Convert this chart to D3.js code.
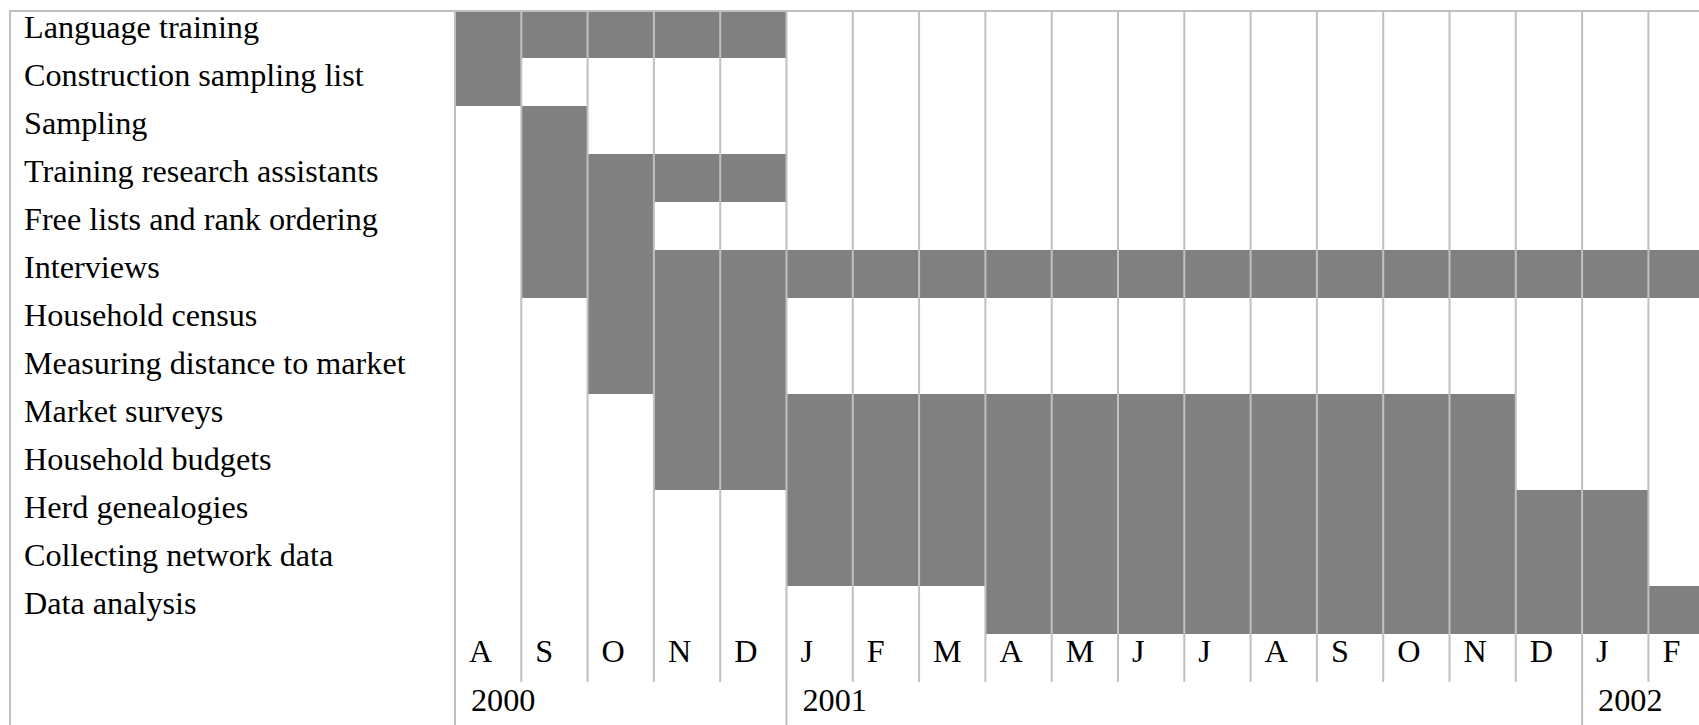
<!DOCTYPE html>
<html>
<head>
<meta charset="utf-8">
<script src="https://cdn.jsdelivr.net/npm/d3@7"></script>
<style>
  html, body { margin: 0; padding: 0; background: #fff; overflow: hidden; }
  svg { display: block; }
  text { font-family: "Liberation Serif", "Times New Roman", serif; fill: #000; }
</style>
</head>
<body>
<svg id="chart" width="1699" height="725"></svg>
<script>
// ---- data ----
const activities = [
  "Language training",
  "Construction sampling list",
  "Sampling",
  "Training research assistants",
  "Free lists and rank ordering",
  "Interviews",
  "Household census",
  "Measuring distance to market",
  "Market surveys",
  "Household budgets",
  "Herd genealogies",
  "Collecting network data",
  "Data analysis"
];
const months = ["A","S","O","N","D","J","F","M","A","M","J","J","A","S","O","N","D","J","F"];
// first and last month index (into months) of each activity
const startMonth = [0, 0, 1, 1, 1, 1, 2, 2, 3, 3, 5, 5, 8];
const endMonth   = [4, 0, 1, 4, 2, 18, 4, 4, 15, 15, 17, 17, 18];
const yearLabels = ["2000", "2001", "2002"];
const yearStart  = [0, 5, 17];

// ---- layout ----
const W = 1699, H = 725;
const svg = d3.select("#chart");
const gridTop = 10, rowH = 48;
const labelColRight = 454, colW = 66.3;
const fontSize = 32.2;

const x = d3.scaleBand().domain(d3.range(months.length))
  .range([labelColRight, labelColRight + colW * months.length]).padding(0);
const y = d3.scaleBand().domain(d3.range(activities.length))
  .range([gridTop, gridTop + rowH * activities.length]).padding(0);
const monthTop = y.range()[1];
const yearTop = monthTop + rowH;

const lineColor = "#c0c0c0", barColor = "#808080";

// bars
const cells = [];
activities.forEach((a, i) => {
  for (let m = startMonth[i]; m <= endMonth[i]; m++) cells.push({row: i, m});
});
svg.append("g").selectAll("rect").data(cells).join("rect")
  .attr("x", d => x(d.m) + 1)
  .attr("y", d => y(d.row))
  .attr("width", x.bandwidth())
  .attr("height", y.bandwidth())
  .attr("fill", barColor);

// vertical grid lines (month boundaries)
svg.append("g").selectAll("line").data(d3.range(months.length)).join("line")
  .attr("x1", d => x(d) + 1).attr("x2", d => x(d) + 1)
  .attr("y1", gridTop).attr("y2", yearTop)
  .attr("stroke", lineColor).attr("stroke-width", 2);

// year boundaries
svg.append("g").selectAll("line").data(yearStart).join("line")
  .attr("x1", d => x(d) + 1).attr("x2", d => x(d) + 1)
  .attr("y1", yearTop).attr("y2", H)
  .attr("stroke", lineColor).attr("stroke-width", 2);

// outer borders
svg.append("line").attr("x1", 9).attr("x2", W).attr("y1", 11).attr("y2", 11)
  .attr("stroke", lineColor).attr("stroke-width", 2);
svg.append("line").attr("x1", 10).attr("x2", 10).attr("y1", 10).attr("y2", H)
  .attr("stroke", lineColor).attr("stroke-width", 2);
svg.append("line").attr("x1", labelColRight + 1).attr("x2", labelColRight + 1).attr("y1", 10).attr("y2", H)
  .attr("stroke", lineColor).attr("stroke-width", 2);

// activity labels
svg.append("g").selectAll("text").data(activities).join("text")
  .attr("x", 24)
  .attr("y", (d, i) => y(i) + 28)
  .attr("font-size", fontSize)
  .text(d => d);

// month labels
svg.append("g").selectAll("text").data(months).join("text")
  .attr("x", (d, i) => x(i) + 15)
  .attr("y", monthTop + 28)
  .attr("font-size", fontSize)
  .text(d => d);

// year labels
svg.append("g").selectAll("text").data(yearLabels).join("text")
  .attr("x", (d, i) => x(yearStart[i]) + 17)
  .attr("y", yearTop + 29)
  .attr("font-size", fontSize)
  .text(d => d);
</script>
</body>
</html>
